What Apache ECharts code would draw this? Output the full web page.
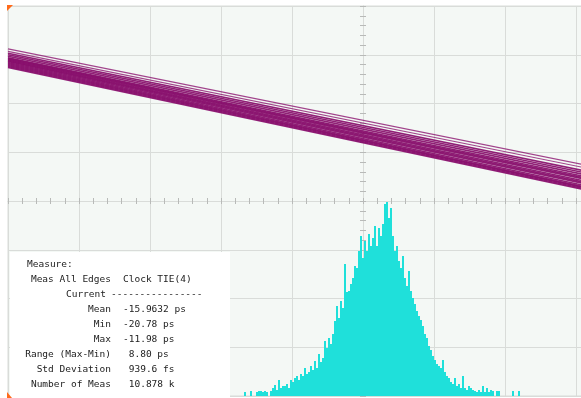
<!DOCTYPE html>
<html>
<head>
<meta charset="utf-8">
<script src="https://cdn.jsdelivr.net/npm/echarts@6/dist/echarts.min.js"></script>
<style>
  html, body { margin: 0; padding: 0; background: #ffffff; }
  #chart { width: 581px; height: 398px; }
</style>
</head>
<body>
<div id="chart"></div>
<script>
// trace bundle: y (divisions) at the left edge (x = -5 div) and right edge (x = +5 div)
const traceLeft = [3.12, 3.07, 3.03, 3.00, 2.97, 2.94, 2.92, 2.90, 2.88, 2.86, 2.84, 2.82, 2.80, 2.78, 2.76, 2.74];
const traceRight = [0.19, 0.13, 0.06, 0.02, -0.02, -0.06, -0.09, -0.12, -0.16, -0.19, -0.22, -0.26, -0.29, -0.31, -0.33, -0.35];

// TIE histogram, hits per bin (left to right)
const histCounts = [
  4, 0, 0, 5, 0, 0, 4, 5, 5, 4, 5, 4, 0, 5, 8, 11, 6, 16, 8, 10,
  10, 12, 8, 16, 14, 18, 20, 16, 22, 20, 28, 22, 24, 30, 26, 35, 28, 42, 34, 38,
  55, 48, 58, 52, 62, 75, 90, 78, 95, 88, 132, 104, 105, 112, 118, 130, 128, 145, 160, 138,
  155, 145, 162, 150, 158, 170, 150, 168, 160, 172, 192, 194, 178, 188, 160, 145, 150, 135, 128, 140,
  118, 110, 125, 105, 98, 92, 85, 80, 76, 70, 62, 58, 50, 46, 40, 36, 32, 30, 28, 36,
  24, 20, 18, 14, 12, 18, 10, 12, 8, 20, 8, 6, 10, 8, 6, 5, 4, 6, 4, 10,
  4, 8, 4, 6, 5, 0, 5, 5, 0, 0, 0, 0, 0, 0, 5, 0, 0, 5
];
const histBins = histCounts.map((_, i) => String(i));

// measurement readout
const measTitle = "Measure:";
const measLabels = ["Meas All Edges", "Current", "Mean", "Min", "Max", "Range (Max-Min)", "Std Deviation", "Number of Meas"];
const measValues = ["Clock TIE(4)", "----------------", "-15.9632 ps", "-20.78 ps", "-11.98 ps", " 8.80 ps", " 939.6 fs", " 10.878 k"];

const chart = echarts.init(document.getElementById("chart"));

const gridColor = "#d9dcd9";
const tickColor = "#b8bab8";
const traceColor = "#850868";
const histColor = "#1fe0da";

const centerTicks = (inside) => ({
  show: true, inside: inside, length: 3,
  lineStyle: { color: tickColor, width: 1 },
});
const centerMinor = (inside) => ({
  show: true, splitNumber: 5, length: 3,
  lineStyle: { color: tickColor, width: 1 },
});

const traceSeries = traceLeft.map((l, i) => ({
  type: "line",
  xAxisIndex: 0,
  yAxisIndex: 0,
  data: [[-5, l], [5, traceRight[i]]],
  symbol: "none",
  silent: true,
  lineStyle: { color: traceColor, width: i < 2 ? 1.2 : 1.6, opacity: i < 2 ? 0.75 : 0.9 },
  z: 3,
}));

const mono = '"DejaVu Sans Mono", monospace';
const lineY = (k) => 265 + 15 * k;
const textEls = [
  { type: "rect", shape: { x: 10, y: 252, width: 220, height: 150 }, style: { fill: "#ffffff" }, z: 50 },
  { type: "text", x: 27, y: lineY(0), style: { text: measTitle, font: "9.5px " + mono, fill: "#222", verticalAlign: "middle" }, z: 51 },
];
measLabels.forEach((t, k) => {
  textEls.push({ type: "text", x: t === "Current" ? 106 : 111, y: lineY(k + 1), style: { text: t, font: "9.5px " + mono, fill: "#222", align: "right", verticalAlign: "middle" }, z: 51 });
});
measValues.forEach((t, k) => {
  textEls.push({ type: "text", x: k === 1 ? 111 : 123, y: lineY(k + 1), style: { text: t, font: "9.5px " + mono, fill: "#222", align: "left", verticalAlign: "middle" }, z: 51 });
});
// trigger markers
textEls.push({ type: "polygon", shape: { points: [[7, 5], [13, 5], [7, 11]] }, style: { fill: "#ff6a1a" }, z: 60 });
textEls.push({ type: "polygon", shape: { points: [[7, 392], [7, 398], [12, 398]] }, style: { fill: "#ff6a1a" }, z: 60 });

chart.setOption({
  animation: false,
  backgroundColor: "#ffffff",
  grid: [
    { left: 8, top: 6, width: 710, height: 390, outerBoundsMode: "none", show: true, backgroundColor: "#f4f8f5", borderColor: gridColor, borderWidth: 1 },
    { left: 244, top: 6, width: 276, height: 390, outerBoundsMode: "none" },
  ],
  xAxis: [
    {
      type: "value", gridIndex: 0, min: -5, max: 5, interval: 1, position: "bottom",
      axisLine: { show: true, onZero: true, lineStyle: { color: gridColor } },
      axisTick: centerTicks(false), minorTick: centerMinor(false),
      axisLabel: { show: false },
      splitLine: { show: true, lineStyle: { color: gridColor, width: 1 } },
    },
    {
      type: "value", gridIndex: 0, min: -5, max: 5, interval: 1, position: "top",
      axisLine: { show: true, onZero: true, lineStyle: { color: gridColor } },
      axisTick: centerTicks(false), minorTick: centerMinor(false),
      axisLabel: { show: false }, splitLine: { show: false },
    },
    { type: "category", gridIndex: 1, data: histBins, show: false },
  ],
  yAxis: [
    {
      type: "value", gridIndex: 0, min: -4, max: 4, interval: 1, position: "left",
      axisLine: { show: true, onZero: true, lineStyle: { color: gridColor } },
      axisTick: centerTicks(false), minorTick: centerMinor(false),
      axisLabel: { show: false },
      splitLine: { show: true, lineStyle: { color: gridColor, width: 1 } },
    },
    {
      type: "value", gridIndex: 0, min: -4, max: 4, interval: 1, position: "right",
      axisLine: { show: true, onZero: true, lineStyle: { color: gridColor } },
      axisTick: centerTicks(false), minorTick: centerMinor(false),
      axisLabel: { show: false }, splitLine: { show: false },
    },
    { type: "value", gridIndex: 1, min: 0, max: 390, show: false },
  ],
  series: [
    {
      type: "bar", xAxisIndex: 2, yAxisIndex: 2, data: histCounts,
      barCategoryGap: 0, silent: true,
      itemStyle: { color: histColor }, z: 2,
    },
    ...traceSeries,
  ],
  graphic: textEls,
});
</script>
</body>
</html>
